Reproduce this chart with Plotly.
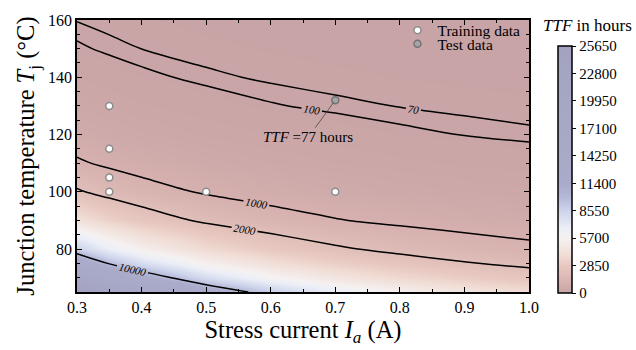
import plotly.graph_objects as go

# ---- data ----
currents = [0.30, 0.35, 0.40, 0.50, 0.60, 0.70, 0.80, 0.90, 1.00]
temps = [65, 70, 75, 80, 90, 100, 110, 120, 130, 140, 150, 160]
# TTF (hours) grid: rows = temps, cols = currents
ttf = [
    [27981, 21695, 17404, 12043, 8915, 6913, 5546, 4566, 3838],
    [18741, 14531, 11657, 8066, 5971, 4630, 3715, 3058, 2570],
    [12699, 9846, 7899, 5465, 4046, 3137, 2517, 2072, 1742],
    [8700, 6745, 5411, 3744, 2772, 2149, 1724, 1420, 1193],
    [4213, 3266, 2620, 1813, 1342, 1041, 835, 687, 578],
    [2121, 1644, 1319, 913, 676, 524, 420, 346, 291],
    [1107, 858, 688, 476, 353, 273, 219, 181, 152],
    [597, 463, 371, 257, 190, 147.5, 118, 97.4, 81.9],
    [332, 257, 206, 143, 106, 84.0, 67.5, 55.5, 46.5],
    [190, 147, 118, 81.7, 60.5, 46.9, 37.6, 31.0, 26.1],
    [112, 86.5, 69.4, 48.0, 35.5, 27.6, 22.1, 18.2, 15.3],
    [67.2, 52.1, 41.8, 28.9, 21.4, 16.6, 13.3, 11.0, 9.2],
]
contour_levels = [70, 100, 1000, 2000, 10000]

train_I = [0.35, 0.35, 0.35, 0.35, 0.50, 0.70]
train_T = [100, 105, 115, 130, 100, 100]
test_I = [0.70]
test_T = [132]
test_ttf = 77

cbar_ticks = [0, 2850, 5700, 8550, 11400, 14250, 17100, 19950, 22800, 25650]

FONT = "Liberation Serif"

colorscale = [
    [0.00, "rgb(200,164,166)"],
    [0.04, "rgb(214,177,175)"],
    [0.111, "rgb(232,201,193)"],
    [0.15, "rgb(240,220,212)"],
    [0.222, "rgb(245,241,241)"],
    [0.26, "rgb(236,239,247)"],
    [0.333, "rgb(205,212,235)"],
    [0.39, "rgb(180,183,214)"],
    [0.444, "rgb(170,170,202)"],
    [1.00, "rgb(163,163,193)"],
]

fig = go.Figure()

fig.add_trace(go.Heatmap(
    x=currents, y=temps, z=ttf, zsmooth="best",
    zmin=0, zmax=cbar_ticks[-1], colorscale=colorscale,
    hoverinfo="skip", showlegend=False,
    colorbar=dict(
        x=1.064, xanchor="left", xpad=0, y=-0.004, yanchor="bottom",
        len=0.908, lenmode="fraction", thickness=14, ypad=0,
        outlinewidth=1.5, outlinecolor="black",
        tickvals=cbar_ticks, ticktext=[str(t) for t in cbar_ticks],
        ticks="outside", ticklen=4, tickcolor="black",
        tickfont=dict(family=FONT, size=15, color="black"),
    ),
))

for lvl in contour_levels:
    fig.add_trace(go.Contour(
        x=currents, y=temps, z=ttf,
        contours=dict(start=lvl, end=lvl, size=1, coloring="none",
                      showlabels=True, labelformat="d",
                      labelfont=dict(family=FONT, size=11, color="black", style="italic")),
        line=dict(color="black", width=1.5, smoothing=1.0),
        showscale=False, showlegend=False, hoverinfo="skip",
    ))

fig.add_trace(go.Scatter(
    x=train_I, y=train_T, mode="markers", name="Training data", legend="legend",
    marker=dict(size=7, color="white", line=dict(color="rgb(140,140,140)", width=1.5)),
))
fig.add_trace(go.Scatter(
    x=test_I, y=test_T, mode="markers", name="Test data", legend="legend2",
    marker=dict(size=7, color="rgb(165,165,165)", line=dict(color="rgb(115,115,115)", width=1.5)),
))

fig.add_annotation(
    x=test_I[0], y=test_T[0], xref="x", yref="y",
    text=f"<i>TTF</i> ={test_ttf} hours", showarrow=True,
    ax=-27, ay=37, arrowhead=0, arrowwidth=0.8, arrowcolor="rgb(70,70,70)",
    standoff=3, font=dict(family=FONT, size=15, color="black"),
)
fig.add_annotation(
    x=1.1305, y=0.979, xref="paper", yref="paper", xanchor="center", yanchor="middle",
    text="<i>TTF</i> in hours", showarrow=False,
    font=dict(family=FONT, size=17, color="black"),
)

axis_common = dict(
    showline=True, linecolor="black", linewidth=1.5, mirror="allticks",
    ticks="inside", ticklen=5, tickwidth=1, tickcolor="black",
    showgrid=False, zeroline=False,
    tickfont=dict(family=FONT, size=16, color="black"),
)

fig.update_xaxes(
    range=[0.3, 1.0], dtick=0.1, tick0=0.3, tickformat=".1f",
    minor=dict(dtick=0.05, ticks="inside", ticklen=3, tickcolor="black"),
    title=dict(text="Stress current <i>I</i><sub><i>a</i></sub> (A)",
               font=dict(family=FONT, size=24.5, color="black"), standoff=5),
    **axis_common,
)
fig.update_yaxes(
    range=[65, 160], tickvals=[80, 100, 120, 140, 160],
    minor=dict(dtick=5, tick0=60, ticks="inside", ticklen=3, tickcolor="black"),
    title=dict(text="Junction temperature <i>T</i><sub>j</sub> (°C)",
               font=dict(family=FONT, size=24.5, color="black"), standoff=6),
    **axis_common,
)

leg_common = dict(xanchor="left", yanchor="middle", bgcolor="rgba(0,0,0,0)",
                  borderwidth=0, itemwidth=30,
                  font=dict(family=FONT, size=15.5, color="black"))
fig.update_layout(
    width=636, height=350,
    margin=dict(l=77, r=107, t=16, b=52),
    paper_bgcolor="white", plot_bgcolor="white",
    font=dict(family=FONT, color="black"),
    legend=dict(x=0.709, y=(298 - 27) / 282, **leg_common),
    legend2=dict(x=0.709, y=(298 - 41) / 282, **leg_common),
)

fig.write_html("out.html")
